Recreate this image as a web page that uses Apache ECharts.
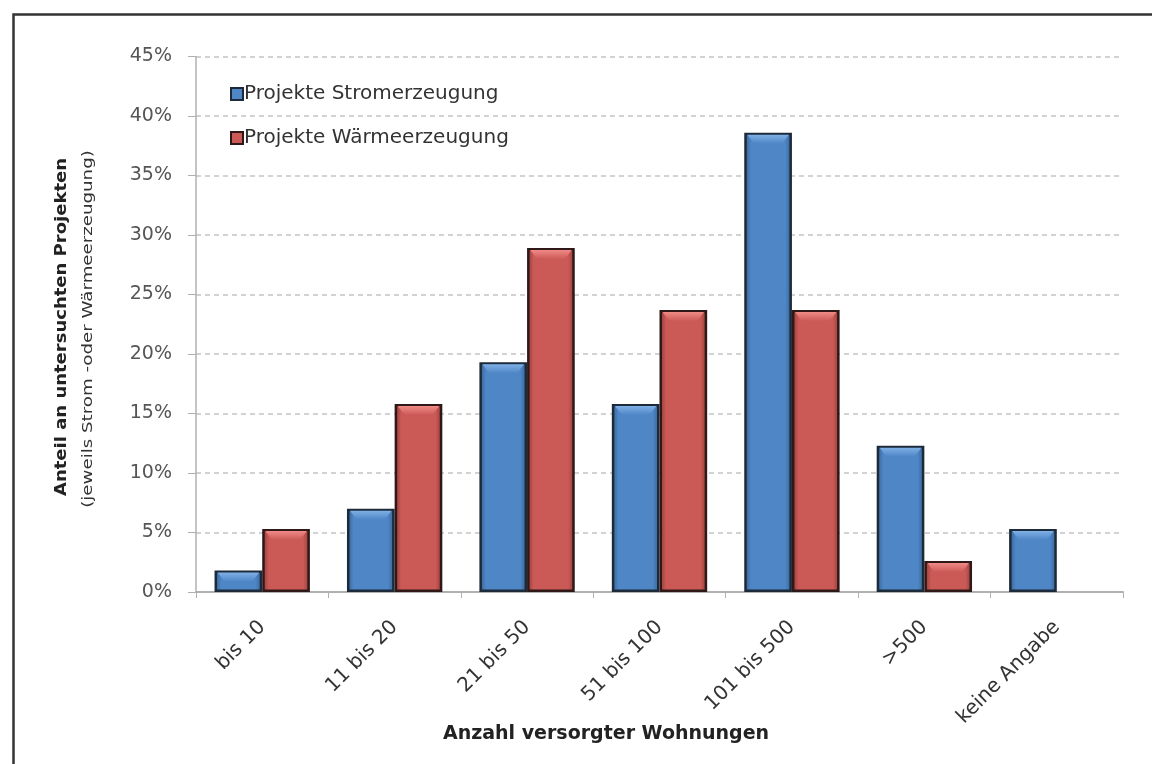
<!DOCTYPE html>
<html>
<head>
<meta charset="utf-8">
<script src="https://cdn.jsdelivr.net/npm/echarts@6/dist/echarts.min.js"></script>
<style>
  html, body { margin: 0; padding: 0; background: #fff; }
  #chart { width: 1152px; height: 764px; }
</style>
</head>
<body>
<div id="chart"></div>
<script>
// Kategorien: Anzahl versorgter Wohnungen je Projekt
const categories = ['bis 10', '11 bis 20', '21 bis 50', '51 bis 100', '101 bis 500', '>500', 'keine Angabe'];
// Anteil an untersuchten Projekten in %
const stromValues = [1.8, 7.0, 19.3, 15.8, 38.6, 12.3, 5.3];
const waermeValues = [5.3, 15.8, 28.9, 23.7, 23.7, 2.6, null];
const seriesNames = ['Projekte Stromerzeugung', 'Projekte Wärmeerzeugung'];
const yTicks = { min: 0, max: 45, interval: 5 };

const FONT = '"DejaVu Sans", "Noto Sans", sans-serif';
const CAT_GAP = 0.28;            // free space per category
const BAR_FRAC = (1 - CAT_GAP) / 2;

function barFill(edge, mid) {
  return new echarts.graphic.LinearGradient(0, 0, 1, 0, [
    { offset: 0, color: edge },
    { offset: 0.14, color: mid },
    { offset: 0.86, color: mid },
    { offset: 1, color: edge }
  ]);
}

// light bevel on top of each bar, placed via the axis scales
function bevelSeries(values, seriesIdx, light, base) {
  return {
    type: 'custom',
    silent: true,
    z: 3,
    data: values.map((v, i) => [i, v]).filter(d => d[1] != null && d[1] > 0),
    renderItem: function (params, api) {
      const top = api.coord([api.value(0), api.value(1)]);
      const band = api.size([1, 0])[0];
      const w = band * BAR_FRAC;
      const x0 = top[0] - (seriesIdx === 0 ? w : 0);
      const inset = 3;
      const h = Math.min(9, (api.coord([0, 0])[1] - top[1]) - 4);
      if (h <= 1) return null;
      const y0 = top[1] + 2;
      return {
        type: 'polygon',
        shape: {
          points: [
            [x0 + inset, y0], [x0 + w - inset, y0],
            [x0 + w - inset - 7, y0 + h], [x0 + inset + 7, y0 + h]
          ]
        },
        style: {
          fill: new echarts.graphic.LinearGradient(0, 0, 0, 1, [
            { offset: 0, color: light },
            { offset: 1, color: base }
          ])
        }
      };
    }
  };
}

const chart = echarts.init(document.getElementById('chart'), null, { renderer: 'canvas' });

chart.setOption({
  backgroundColor: '#ffffff',
  animation: false,
  title: {
    text: 'Anzahl versorgter Wohnungen',
    left: 601,
    top: 720,
    textAlign: 'center',
    textStyle: { fontFamily: FONT, fontSize: 19, fontWeight: 'bold', color: '#222' }
  },
  graphic: [
    {
      type: 'rect',
      left: 11, top: 12,
      shape: { width: 1200, height: 800 },
      style: { fill: 'none', stroke: '#333', lineWidth: 2.5 },
      silent: true
    },
    {
      type: 'text',
      x: 62, y: 327,
      rotation: Math.PI / 2,
      scaleX: 1.2,
      style: {
        text: 'Anteil an untersuchten Projekten',
        fontFamily: FONT, fontSize: 15, fontWeight: 'bold', fill: '#222',
        align: 'center', verticalAlign: 'middle'
      }
    },
    {
      type: 'text',
      x: 88, y: 329,
      rotation: Math.PI / 2,
      scaleX: 1.3,
      style: {
        text: '(jeweils Strom -oder Wärmeerzeugung)',
        fontFamily: FONT, fontSize: 14, fill: '#333',
        align: 'center', verticalAlign: 'middle'
      }
    }
  ],
  legend: {
    orient: 'vertical',
    left: 230,
    top: 84,
    padding: 0,
    itemGap: 24,
    itemWidth: 12,
    itemHeight: 12,
    icon: 'rect',
    textStyle: { fontFamily: FONT, fontSize: 20, color: '#333', padding: [0, 0, 0, -4] },
    data: seriesNames
  },
  grid: { left: 196, right: 29, top: 56.5, bottom: 172, containLabel: false },
  xAxis: {
    type: 'category',
    data: categories,
    boundaryGap: true,
    axisLine: { show: true, lineStyle: { color: '#b0b0b0', width: 2 } },
    axisTick: { show: true, length: 6, lineStyle: { color: '#b0b0b0' } },
    axisLabel: {
      rotate: 45, margin: 32, interval: 0,
      fontFamily: FONT, fontSize: 20, color: '#333'
    }
  },
  yAxis: {
    type: 'value',
    min: yTicks.min, max: yTicks.max, interval: yTicks.interval,
    axisLine: { show: true, lineStyle: { color: '#b0b0b0', width: 1.5 } },
    axisTick: { show: true, length: 8, lineStyle: { color: '#b0b0b0' } },
    axisLabel: {
      formatter: '{value}%', margin: 24,
      fontFamily: FONT, fontSize: 19, color: '#555'
    },
    splitLine: { show: true, lineStyle: { color: '#c4c4c4', type: [5, 4], width: 1.5 } }
  },
  series: [
    {
      name: seriesNames[0],
      type: 'bar',
      data: stromValues,
      barGap: '0%',
      barCategoryGap: (CAT_GAP * 100) + '%',
      itemStyle: {
        color: barFill('#34608f', '#4f86c6'),
        borderColor: '#1c2a3a',
        borderWidth: 2.5
      }
    },
    {
      name: seriesNames[1],
      type: 'bar',
      data: waermeValues,
      barGap: '0%',
      barCategoryGap: (CAT_GAP * 100) + '%',
      itemStyle: {
        color: barFill('#8f3936', '#cb5a57'),
        borderColor: '#2e1818',
        borderWidth: 2.5
      }
    },
    bevelSeries(stromValues, 0, '#7fb0e6', '#4f86c6'),
    bevelSeries(waermeValues, 1, '#f08a86', '#cb5a57')
  ]
});
</script>
</body>
</html>
